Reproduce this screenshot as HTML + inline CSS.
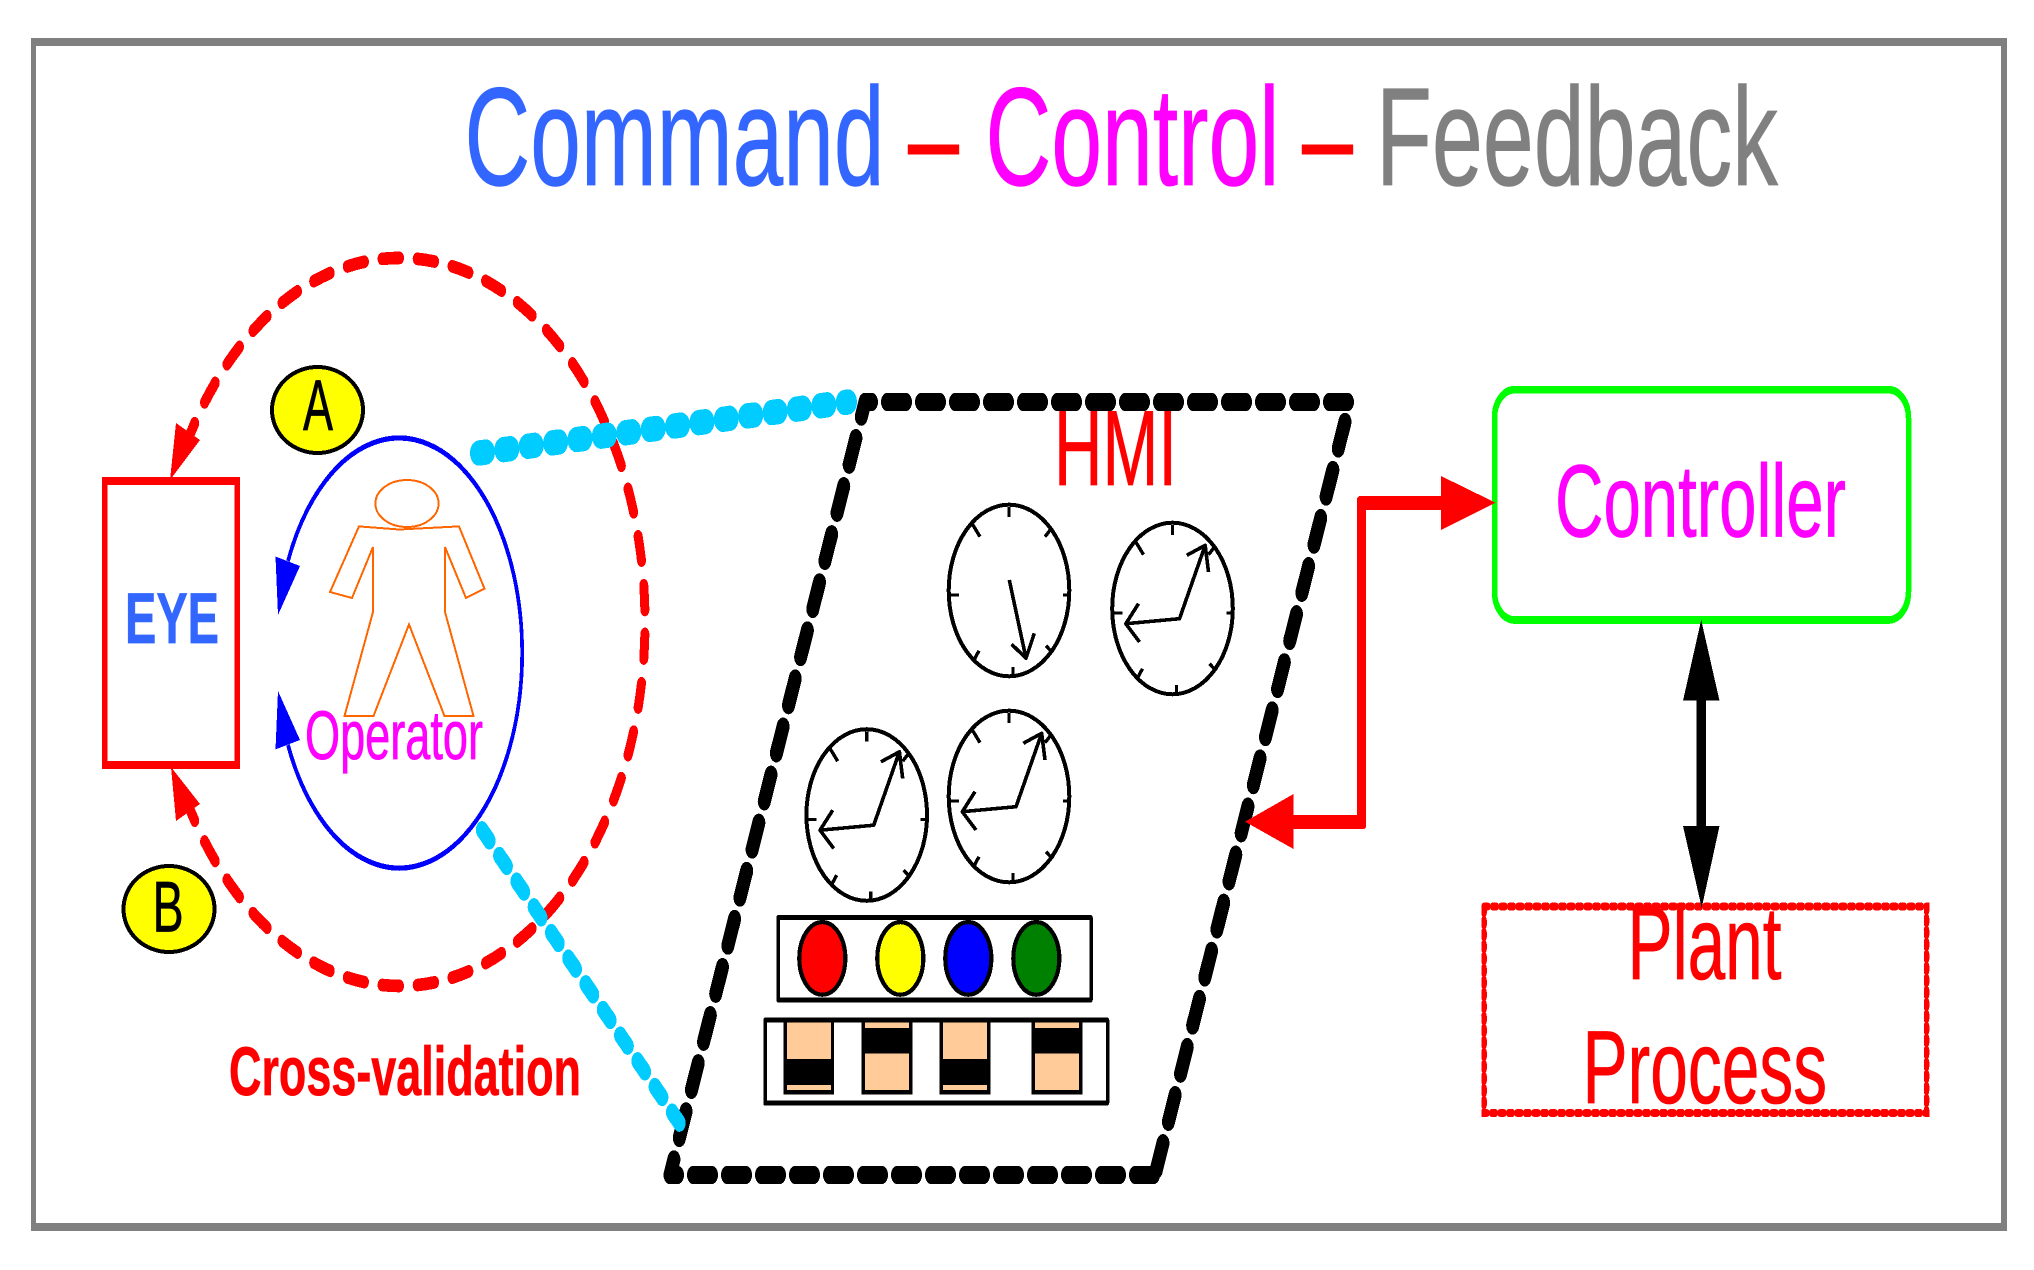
<!DOCTYPE html>
<html>
<head>
<meta charset="utf-8">
<style>
html,body{margin:0;padding:0;background:#fff;}
svg{display:block;}
text{font-family:"Liberation Sans",sans-serif;text-rendering:geometricPrecision;stroke-width:.7;}
</style>
</head>
<body>
<svg xmlns="http://www.w3.org/2000/svg" width="2034" height="1270" viewBox="0 0 2034 1270" shape-rendering="crispEdges">
<rect width="2034" height="1270" fill="#fff"/>
<path d="M31 38H2007V1231H31Z M36 46H2001V1223H36Z" fill="#808080" fill-rule="evenodd"/>

<!-- Title -->
<g font-size="140">
<text x="464.5" y="185" fill="#3366ff" stroke="#3366ff" textLength="420" lengthAdjust="spacingAndGlyphs">Command</text>
<text x="908" y="185" fill="#ff0000" stroke="#ff0000" textLength="51" lengthAdjust="spacingAndGlyphs">–</text>
<text x="985.5" y="185" fill="#ff00ff" stroke="#ff00ff" textLength="294" lengthAdjust="spacingAndGlyphs">Control</text>
<text x="1302" y="185" fill="#ff0000" stroke="#ff0000" textLength="51" lengthAdjust="spacingAndGlyphs">–</text>
<text x="1376" y="185" fill="#808080" stroke="#808080" textLength="402" lengthAdjust="spacingAndGlyphs">Feedback</text>
</g>

<!-- Stretched group -->
<g transform="scale(1,1.41)" fill="none">
  <!-- Red dashed loop -->
  <g stroke="#ff0000" stroke-width="9" stroke-linecap="round" stroke-dasharray="17.5 17.7" stroke-dashoffset="-8.5">
    <path d="M645 441.1A245 258.2 0 0 0 188 311.7"/>
    <path d="M645 441.1A245 258.2 0 0 1 188 570.5"/>
  </g>
  <!-- HMI parallelogram -->
  <g stroke="#000" stroke-width="13" stroke-linecap="round">
    <path d="M865.5 285.1H1347.5" stroke-dasharray="18 16" stroke-dashoffset="12"/>
    <path d="M1350 285.1L1155 833.3" stroke-dasharray="20 16.2" stroke-dashoffset="21.2"/>
    <path d="M670 833.3H1155" stroke-dasharray="18 16" stroke-dashoffset="10.5"/>
    <path d="M865 285.1L670 833.3" stroke-dasharray="20 16.2" stroke-dashoffset="9"/>
  </g>
  <!-- Panels -->
  <g stroke="#000" stroke-width="3.5" stroke-linejoin="round">
    <rect x="778" y="650.7" width="313" height="58.5"/>
    <rect x="765" y="723.4" width="342.5" height="58.9"/>
  </g>
  <!-- Controller and plant boxes -->
  <rect x="1494.5" y="276.4" width="414" height="163.3" rx="20" ry="20" stroke="#00ff00" stroke-width="5.5"/>
  <rect x="1484" y="642.9" width="442.5" height="146.5" stroke="#ff0000" stroke-width="5.5" stroke-linecap="round" stroke-dasharray="4 4.5"/>
  <!-- Eye box -->
  <rect x="104.5" y="341.1" width="132.5" height="201.4" stroke="#ff0000" stroke-width="5.5"/>
  <!-- Blue ellipse -->
  <path d="M288 397.9A123 152.5 0 1 1 288 528.4" stroke="#0000ff" stroke-width="3.7"/>
</g>

<text x="125" y="643" font-size="72" font-weight="bold" fill="#3366ff" stroke="#3366ff" textLength="94" lengthAdjust="spacingAndGlyphs">EYE</text>

<!-- Red arrowheads of loop -->
<polygon points="170,480 176,423 200,440" fill="#ff0000"/>
<polygon points="171,767 176,821 200,804" fill="#ff0000"/>

<polygon points="278,615 275.5,556.5 300,566" fill="#0000ff"/>
<polygon points="278,691 275.5,749.4 300,740" fill="#0000ff"/>

<!-- Person -->
<g fill="none" stroke="#ff6600" stroke-width="2">
  <ellipse cx="407" cy="503.5" rx="31.6" ry="23.5"/>
  <polygon points="359,526.4 399,529.5 459,526.4 484.5,588.7 466,598 445,547 445,612 473.5,716 444.5,716 409,624.4 373.5,716 344.5,716 373,612 373,547 352,598 330,592"/>
</g>
<text x="305" y="759" font-size="69" fill="#ff00ff" stroke="#ff00ff" textLength="178" lengthAdjust="spacingAndGlyphs">Operator</text>

<!-- A / B -->
<ellipse cx="317.5" cy="410" rx="45.5" ry="43" fill="#ffff00" stroke="#000" stroke-width="4"/>
<text x="303" y="430" font-size="72" fill="#000" stroke="#000" textLength="30" lengthAdjust="spacingAndGlyphs">A</text>
<ellipse cx="169" cy="909" rx="45.5" ry="43" fill="#ffff00" stroke="#000" stroke-width="4"/>
<text x="152.6" y="931.5" font-size="72" fill="#000" stroke="#000" textLength="31" lengthAdjust="spacingAndGlyphs">B</text>

<text x="229" y="1095" font-size="69" font-weight="bold" fill="#ff0000" stroke="#ff0000" textLength="352" lengthAdjust="spacingAndGlyphs">Cross-validation</text>

<!-- HMI label -->
<text x="1054" y="485" font-size="107" fill="#ff0000" stroke="#ff0000" textLength="123" lengthAdjust="spacingAndGlyphs">HMI</text>

<!-- Clocks -->
<defs>
  <g id="face" fill="none" stroke="#000" stroke-width="3.4">
    <ellipse cx="1009" cy="590.5" rx="60.3" ry="85.8" stroke-width="4"/>
    <path d="M1009 507V517M1013 667V677M947 595H959M1063 595H1071M971.7 523L980 536.7M1045 536.7L1051.7 528M979 650.7L973 661.7M1046 645.7L1052.7 653"/>
  </g>
  <g id="hands" fill="none" stroke="#000" stroke-width="3.6" stroke-linejoin="round">
    <path d="M962.3 605.7L1016 600.7L1041.7 527.3"/>
    <path d="M975 585.7L962.3 605.7L976 624"/>
    <path d="M1023.3 537.3L1041.7 527.3L1045 554"/>
  </g>
</defs>
<use href="#face"/>
<g fill="none" stroke="#000" stroke-width="3.6" stroke-linejoin="round">
  <path d="M1009.3 580L1026 658.3"/>
  <path d="M1011.7 644.3L1026 658.3L1034.3 633.3"/>
</g>
<g transform="translate(163.5,18)"><use href="#face"/><use href="#hands"/></g>
<g transform="translate(-142.3,224.5)"><use href="#face"/><use href="#hands"/></g>
<g transform="translate(0,206)"><use href="#face"/><use href="#hands"/></g>

<!-- Lights -->
<g stroke="#000" stroke-width="4.2">
  <ellipse cx="822.3" cy="958.4" rx="23" ry="36.3" fill="#ff0000"/>
  <ellipse cx="900.3" cy="958.4" rx="23" ry="36.3" fill="#ffff00"/>
  <ellipse cx="968.3" cy="958.4" rx="23" ry="36.3" fill="#0000ff"/>
  <ellipse cx="1036.3" cy="958.4" rx="23" ry="36.3" fill="#008000"/>
</g>

<!-- Switches -->
<g fill="#000">
  <rect x="783.5" y="1020" width="50.5" height="74.7" rx="1"/>
  <rect x="861.3" y="1020" width="51.4" height="74.7" rx="1"/>
  <rect x="939.3" y="1020" width="51.4" height="74.7" rx="1"/>
  <rect x="1031.3" y="1020" width="51.4" height="74.7" rx="1"/>
</g>
<g fill="#ffcc99">
  <rect x="787" y="1022.7" width="44" height="36.3"/>
  <rect x="787" y="1085" width="44" height="5"/>
  <rect x="865" y="1022.7" width="44" height="5.3"/>
  <rect x="865" y="1053.7" width="44" height="36.3"/>
  <rect x="943" y="1022.7" width="44" height="36.3"/>
  <rect x="943" y="1085" width="44" height="5"/>
  <rect x="1035" y="1022.7" width="44" height="5.3"/>
  <rect x="1035" y="1053.7" width="44" height="36.3"/>
</g>

<!-- Controller -->
<text x="1555" y="536.7" font-size="103" fill="#ff00ff" stroke="#ff00ff" textLength="291" lengthAdjust="spacingAndGlyphs">Controller</text>

<!-- Plant -->
<text x="1627.5" y="979" font-size="104" fill="#ff0000" stroke="#ff0000" textLength="154" lengthAdjust="spacingAndGlyphs">Plant</text>
<text x="1582.5" y="1103" font-size="104" fill="#ff0000" stroke="#ff0000" textLength="244.6" lengthAdjust="spacingAndGlyphs">Process</text>

<!-- Red connector -->
<polygon points="1441,496 1359,496 1357,498 1357,815 1293,815 1293,829 1364,829 1366,827 1366,510 1441,510" fill="#ff0000"/>
<polygon points="1441,476 1495.5,502.7 1441,530" fill="#ff0000"/>
<polygon points="1293.5,794 1245,821.7 1293.5,849" fill="#ff0000"/>

<!-- Black double arrow -->
<rect x="1696.6" y="700" width="9.2" height="127" fill="#000"/>
<polygon points="1701.2,620 1719.5,700.7 1683,700.7" fill="#000"/>
<polygon points="1683,826 1719.5,826 1701.7,907.7" fill="#000"/>

<!-- Cyan sight lines -->
<g transform="scale(1,1.41)" fill="none" stroke="#00ccff" stroke-linecap="round">
  <path d="M479 321.3L848 285.1" stroke-width="18" stroke-dasharray="7 17.5"/>
  <path d="M482.1 588.6L679.6 796.7" stroke-width="12.5" stroke-dasharray="10.5 14.6"/>
</g>
</svg>
</body>
</html>
